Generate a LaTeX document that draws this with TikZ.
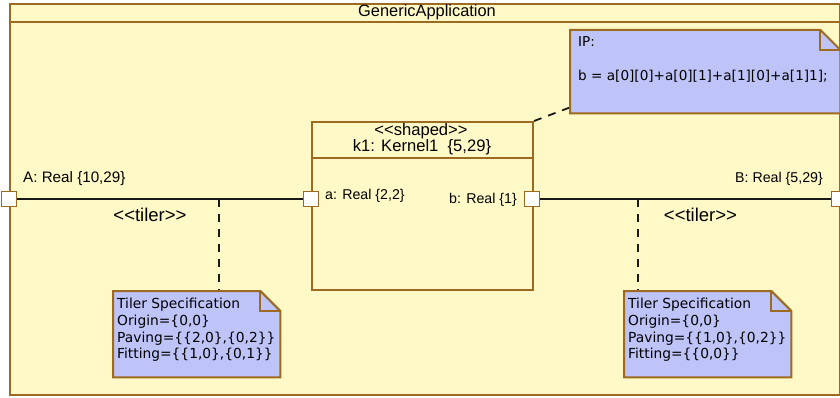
\documentclass[tikz,border=0pt]{standalone}
\usepackage{fontspec}
\setmainfont{Liberation Sans}
\newfontfamily\notefont{DejaVu Sans}
\definecolor{bgyellow}{RGB}{255,249,199}
\definecolor{umlbrown}{RGB}{156,106,32}
\definecolor{notefill}{RGB}{190,196,248}
\definecolor{connblack}{RGB}{25,25,25}
\newcommand\foldnote[2]{%
  \fill[notefill] (#1.north west) -- ([xshift=-#2]#1.north east) -- ([yshift=-#2]#1.north east) -- (#1.south east) -- (#1.south west) -- cycle;
  \draw[noteline] (#1.north west) -- ([xshift=-#2]#1.north east) -- ([yshift=-#2]#1.north east) -- (#1.south east) -- (#1.south west) -- cycle;
  \draw[noteline] ([xshift=-#2]#1.north east) |- ([yshift=-#2]#1.north east);}
\begin{document}
\begin{tikzpicture}[x=1pt,y=-1pt,
  framebox/.style={draw=umlbrown, fill=bgyellow, line width=2pt, inner sep=0pt, anchor=north west},
  kernelbox/.style={draw=umlbrown, line width=2pt, inner sep=0pt, anchor=north west},
  port/.style={draw=umlbrown, fill=white, line width=1.4pt, minimum size=15.5pt, inner sep=0pt},
  conn/.style={draw=connblack, line width=1.5pt},
  dashline/.style={draw=connblack, line width=1.8pt, dash pattern=on 8pt off 7pt},
  noteline/.style={draw=umlbrown, line width=2pt, line join=miter},
  notebox/.style={inner sep=0pt, anchor=north west},
  notetext/.style={font=\notefont\fontsize{13.8}{16.7}\selectfont, align=left, inner sep=0pt, anchor=north west},
  iptext/.style={font=\notefont\fontsize{13.6}{16}\selectfont, inner sep=0pt, anchor=base west},
  lbl/.style={font=\fontsize{14.2}{16}\selectfont, inner sep=0pt},
  hdr/.style={font=\fontsize{16.6}{18}\selectfont, inner sep=0pt},
  tilerlbl/.style={font=\fontsize{18.5}{20}\selectfont, inner sep=0pt}]
\useasboundingbox (0,0) rectangle (840,398);
\fill[white] (0,0) rectangle (840,398);
% outer frame
\node[framebox, minimum width=830pt, minimum height=391pt] (app) at (9,3) {};
\draw[umlbrown, line width=2pt] (app.west |- 0,22) -- (app.east |- 0,22);
\node[font=\fontsize{16.4}{18}\selectfont, inner sep=0pt] (title) at (427,12.5) {GenericApplication};
% kernel part
\node[kernelbox, minimum width=221pt, minimum height=168pt] (k1) at (311,121) {};
\draw[umlbrown, line width=2pt] (k1.west |- 0,158) -- (k1.east |- 0,158);
\node[hdr] (kst) at (421,131) {<\kern0pt<shaped>\kern0pt>};
\node[hdr] (kname) at (422,147.5) {k1: Kernel1\ \ \{5,29\}};
% ports
\node[port] (A) at (9,199) {};
\node[port] (a) at (311,199) {};
\node[port] (b) at (532,199) {};
\node[port] (B) at (839,199) {};
\draw[conn] (A) -- (a);
\draw[conn] (b) -- (B);
% port labels
\node[lbl, anchor=west, font=\fontsize{15.2}{17}\selectfont] (Alab) at (23,179) {A: Real \{10,29\}};
\node[lbl, anchor=west] (alab) at (325,196) {a: Real \{2,2\}};
\node[lbl, anchor=east] (blab) at (517,200) {b: Real \{1\}};
\node[lbl, anchor=east] (Blab) at (823,179) {B: Real \{5,29\}};
\node[tilerlbl] (tl1) at (150,215) {<\kern0pt<tiler>\kern0pt>};
\node[tilerlbl] (tl2) at (700.5,215) {<\kern0pt<tiler>\kern0pt>};
% tiler notes
\coordinate (t1) at (219,199);
\coordinate (t2) at (638,199);
\node[notebox, minimum width=167pt, minimum height=86pt] (tn1) at (113,291) {};
\node[notebox, minimum width=167pt, minimum height=86pt] (tn2) at (624,291) {};
\draw[dashline] (t1) -- (t1 |- tn1.north);
\draw[dashline] (t2) -- (t2 |- tn2.north);
\foldnote{tn1}{20pt}
\foldnote{tn2}{20pt}
\node[notetext] (tn1text) at (117,298) {Tiler Specification\\Origin=\{0,0\}\\Paving=\{\{2,0\},\{0,2\}\}\\Fitting=\{\{1,0\},\{0,1\}\}};
\node[notetext] (tn2text) at (628,298) {Tiler Specification\\Origin=\{0,0\}\\Paving=\{\{1,0\},\{0,2\}\}\\Fitting=\{\{0,0\}\}};
% IP note
\node[notebox, minimum width=270pt, minimum height=83pt] (ip) at (570,30) {};
\draw[dashline] (k1.north east) -- ([yshift=6pt]ip.south west);
\foldnote{ip}{20pt}
\node[iptext] (iptitle) at (578,47) {IP:};
\node[iptext] (ipcode) at (578,81) {b = a[0][0]+a[0][1]+a[1][0]+a[1]1];};
\end{tikzpicture}
\end{document}
